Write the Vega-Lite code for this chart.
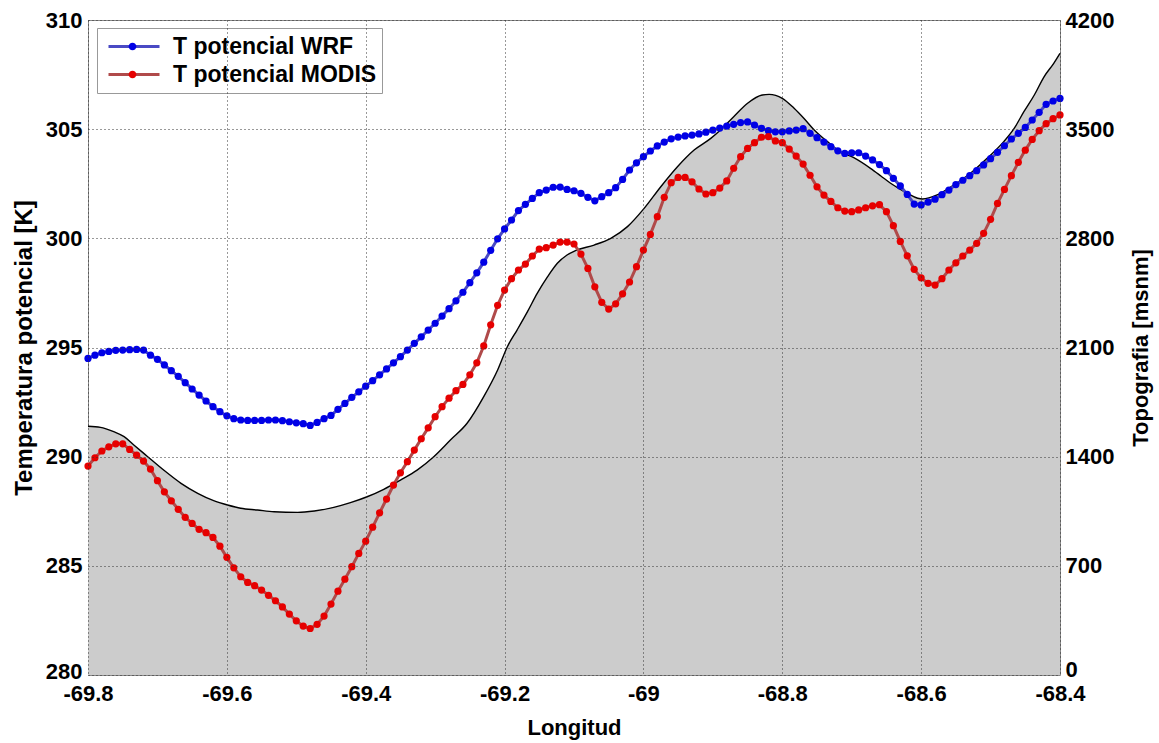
{
"$schema": "https://vega.github.io/schema/vega-lite/v6.json",
"width": 972, "height": 655,
"autosize": {"type": "none"},
"padding": {"left": 88, "top": 20, "right": 99, "bottom": 68},
"background": "white",
"config": {
 "font": "Liberation Sans",
 "view": {"stroke": "#888888", "strokeWidth": 1},
 "axis": {"labelFont": "Liberation Sans", "labelFontWeight": "bold", "labelFontSize": 22, "labelColor": "black",
  "titleFont": "Liberation Sans", "titleFontWeight": "bold", "titleFontSize": 22, "titleColor": "black",
  "gridColor": "#333333", "gridDash": [1, 3], "gridOpacity": 1, "gridWidth": 1,
  "ticks": false, "tickSize": 0, "domain": false, "labelFlush": false, "labelOverlap": false, "labelBound": false},
 "legend": {"orient": "none", "legendX": 9, "legendY": 8, "title": null, "symbolSize": 2601,
  "labelFont": "Liberation Sans", "labelFontSize": 23, "labelFontWeight": "bold", "labelColor": "black",
  "padding": 5, "symbolOffset": 5, "labelOffset": 12, "clipHeight": 27, "rowPadding": 1, "labelLimit": 400}
},
"datasets": {
"topo": [
{"lon":-69.8,"h":1595},{"lon":-69.782,"h":1588},{"lon":-69.763,"h":1560},{"lon":-69.748,"h":1528},{"lon":-69.734,"h":1475},{"lon":-69.714,"h":1400},{"lon":-69.691,"h":1314},{"lon":-69.666,"h":1229},{"lon":-69.642,"h":1165},{"lon":-69.619,"h":1118},{"lon":-69.599,"h":1090},{"lon":-69.58,"h":1069},{"lon":-69.556,"h":1058},{"lon":-69.532,"h":1047},{"lon":-69.498,"h":1043},{"lon":-69.474,"h":1052},{"lon":-69.446,"h":1075},{"lon":-69.422,"h":1105},{"lon":-69.398,"h":1143},{"lon":-69.374,"h":1191},{"lon":-69.35,"h":1250},{"lon":-69.326,"h":1314},{"lon":-69.302,"h":1400},{"lon":-69.278,"h":1507},{"lon":-69.254,"h":1614},{"lon":-69.23,"h":1785},{"lon":-69.21,"h":1956},{"lon":-69.196,"h":2105},{"lon":-69.182,"h":2212},{"lon":-69.167,"h":2330},{"lon":-69.153,"h":2447},{"lon":-69.138,"h":2554},{"lon":-69.124,"h":2640},{"lon":-69.11,"h":2693},{"lon":-69.098,"h":2721},{"lon":-69.071,"h":2757},{"lon":-69.047,"h":2800},{"lon":-69.023,"h":2875},{"lon":-68.999,"h":2992},{"lon":-68.975,"h":3131},{"lon":-68.951,"h":3259},{"lon":-68.927,"h":3366},{"lon":-68.903,"h":3441},{"lon":-68.889,"h":3495},{"lon":-68.87,"h":3580},{"lon":-68.85,"h":3666},{"lon":-68.829,"h":3719},{"lon":-68.819,"h":3723},{"lon":-68.8,"h":3698},{"lon":-68.783,"h":3634},{"lon":-68.769,"h":3570},{"lon":-68.754,"h":3495},{"lon":-68.735,"h":3420},{"lon":-68.718,"h":3360},{"lon":-68.697,"h":3317},{"lon":-68.673,"h":3249},{"lon":-68.658,"h":3200},{"lon":-68.644,"h":3153},{"lon":-68.62,"h":3089},{"lon":-68.605,"h":3057},{"lon":-68.598,"h":3052},{"lon":-68.577,"h":3078},{"lon":-68.553,"h":3142},{"lon":-68.529,"h":3217},{"lon":-68.505,"h":3313},{"lon":-68.481,"h":3420},{"lon":-68.466,"h":3505},{"lon":-68.452,"h":3612},{"lon":-68.437,"h":3719},{"lon":-68.423,"h":3836},{"lon":-68.409,"h":3922},{"lon":-68.4,"h":3986}
],
"temp": [
{"lon":-69.8,"serie":"T potencial WRF","t":294.50},{"lon":-69.79,"serie":"T potencial WRF","t":294.65},{"lon":-69.78,"serie":"T potencial WRF","t":294.76},{"lon":-69.77,"serie":"T potencial WRF","t":294.82},{"lon":-69.76,"serie":"T potencial WRF","t":294.87},{"lon":-69.75,"serie":"T potencial WRF","t":294.88},{"lon":-69.74,"serie":"T potencial WRF","t":294.90},{"lon":-69.73,"serie":"T potencial WRF","t":294.91},{"lon":-69.72,"serie":"T potencial WRF","t":294.88},{"lon":-69.71,"serie":"T potencial WRF","t":294.65},
{"lon":-69.7,"serie":"T potencial WRF","t":294.46},{"lon":-69.69,"serie":"T potencial WRF","t":294.20},{"lon":-69.68,"serie":"T potencial WRF","t":293.94},{"lon":-69.67,"serie":"T potencial WRF","t":293.68},{"lon":-69.66,"serie":"T potencial WRF","t":293.39},{"lon":-69.65,"serie":"T potencial WRF","t":293.10},{"lon":-69.64,"serie":"T potencial WRF","t":292.82},{"lon":-69.63,"serie":"T potencial WRF","t":292.55},{"lon":-69.62,"serie":"T potencial WRF","t":292.29},{"lon":-69.61,"serie":"T potencial WRF","t":292.06},
{"lon":-69.6,"serie":"T potencial WRF","t":291.87},{"lon":-69.59,"serie":"T potencial WRF","t":291.74},{"lon":-69.58,"serie":"T potencial WRF","t":291.68},{"lon":-69.57,"serie":"T potencial WRF","t":291.66},{"lon":-69.56,"serie":"T potencial WRF","t":291.66},{"lon":-69.55,"serie":"T potencial WRF","t":291.66},{"lon":-69.54,"serie":"T potencial WRF","t":291.68},{"lon":-69.53,"serie":"T potencial WRF","t":291.68},{"lon":-69.52,"serie":"T potencial WRF","t":291.65},{"lon":-69.51,"serie":"T potencial WRF","t":291.60},
{"lon":-69.5,"serie":"T potencial WRF","t":291.55},{"lon":-69.49,"serie":"T potencial WRF","t":291.51},{"lon":-69.48,"serie":"T potencial WRF","t":291.43},{"lon":-69.47,"serie":"T potencial WRF","t":291.57},{"lon":-69.46,"serie":"T potencial WRF","t":291.74},{"lon":-69.45,"serie":"T potencial WRF","t":291.89},{"lon":-69.44,"serie":"T potencial WRF","t":292.17},{"lon":-69.43,"serie":"T potencial WRF","t":292.44},{"lon":-69.42,"serie":"T potencial WRF","t":292.72},{"lon":-69.41,"serie":"T potencial WRF","t":292.97},
{"lon":-69.4,"serie":"T potencial WRF","t":293.23},{"lon":-69.39,"serie":"T potencial WRF","t":293.48},{"lon":-69.38,"serie":"T potencial WRF","t":293.75},{"lon":-69.37,"serie":"T potencial WRF","t":294.02},{"lon":-69.36,"serie":"T potencial WRF","t":294.30},{"lon":-69.35,"serie":"T potencial WRF","t":294.58},{"lon":-69.34,"serie":"T potencial WRF","t":294.88},{"lon":-69.33,"serie":"T potencial WRF","t":295.19},{"lon":-69.32,"serie":"T potencial WRF","t":295.49},{"lon":-69.31,"serie":"T potencial WRF","t":295.80},
{"lon":-69.3,"serie":"T potencial WRF","t":296.11},{"lon":-69.29,"serie":"T potencial WRF","t":296.44},{"lon":-69.28,"serie":"T potencial WRF","t":296.78},{"lon":-69.27,"serie":"T potencial WRF","t":297.14},{"lon":-69.26,"serie":"T potencial WRF","t":297.53},{"lon":-69.25,"serie":"T potencial WRF","t":297.97},{"lon":-69.24,"serie":"T potencial WRF","t":298.42},{"lon":-69.23,"serie":"T potencial WRF","t":298.91},{"lon":-69.22,"serie":"T potencial WRF","t":299.45},{"lon":-69.21,"serie":"T potencial WRF","t":299.98},
{"lon":-69.2,"serie":"T potencial WRF","t":300.43},{"lon":-69.19,"serie":"T potencial WRF","t":300.84},{"lon":-69.18,"serie":"T potencial WRF","t":301.27},{"lon":-69.17,"serie":"T potencial WRF","t":301.56},{"lon":-69.16,"serie":"T potencial WRF","t":301.83},{"lon":-69.15,"serie":"T potencial WRF","t":302.09},{"lon":-69.14,"serie":"T potencial WRF","t":302.21},{"lon":-69.13,"serie":"T potencial WRF","t":302.34},{"lon":-69.12,"serie":"T potencial WRF","t":302.35},{"lon":-69.11,"serie":"T potencial WRF","t":302.24},
{"lon":-69.1,"serie":"T potencial WRF","t":302.18},{"lon":-69.09,"serie":"T potencial WRF","t":302.06},{"lon":-69.08,"serie":"T potencial WRF","t":301.88},{"lon":-69.07,"serie":"T potencial WRF","t":301.72},{"lon":-69.06,"serie":"T potencial WRF","t":301.91},{"lon":-69.05,"serie":"T potencial WRF","t":302.09},{"lon":-69.04,"serie":"T potencial WRF","t":302.32},{"lon":-69.03,"serie":"T potencial WRF","t":302.70},{"lon":-69.02,"serie":"T potencial WRF","t":303.13},{"lon":-69.01,"serie":"T potencial WRF","t":303.46},
{"lon":-69,"serie":"T potencial WRF","t":303.74},{"lon":-68.99,"serie":"T potencial WRF","t":304.00},{"lon":-68.98,"serie":"T potencial WRF","t":304.23},{"lon":-68.97,"serie":"T potencial WRF","t":304.41},{"lon":-68.96,"serie":"T potencial WRF","t":304.56},{"lon":-68.95,"serie":"T potencial WRF","t":304.64},{"lon":-68.94,"serie":"T potencial WRF","t":304.69},{"lon":-68.93,"serie":"T potencial WRF","t":304.73},{"lon":-68.92,"serie":"T potencial WRF","t":304.78},{"lon":-68.91,"serie":"T potencial WRF","t":304.86},
{"lon":-68.9,"serie":"T potencial WRF","t":304.96},{"lon":-68.89,"serie":"T potencial WRF","t":305.05},{"lon":-68.88,"serie":"T potencial WRF","t":305.14},{"lon":-68.87,"serie":"T potencial WRF","t":305.22},{"lon":-68.86,"serie":"T potencial WRF","t":305.30},{"lon":-68.85,"serie":"T potencial WRF","t":305.33},{"lon":-68.84,"serie":"T potencial WRF","t":305.19},{"lon":-68.83,"serie":"T potencial WRF","t":305.04},{"lon":-68.82,"serie":"T potencial WRF","t":304.93},{"lon":-68.81,"serie":"T potencial WRF","t":304.88},
{"lon":-68.8,"serie":"T potencial WRF","t":304.88},{"lon":-68.79,"serie":"T potencial WRF","t":304.92},{"lon":-68.78,"serie":"T potencial WRF","t":304.96},{"lon":-68.77,"serie":"T potencial WRF","t":305.02},{"lon":-68.76,"serie":"T potencial WRF","t":304.81},{"lon":-68.75,"serie":"T potencial WRF","t":304.61},{"lon":-68.74,"serie":"T potencial WRF","t":304.41},{"lon":-68.73,"serie":"T potencial WRF","t":304.20},{"lon":-68.72,"serie":"T potencial WRF","t":304.01},{"lon":-68.71,"serie":"T potencial WRF","t":303.89},
{"lon":-68.7,"serie":"T potencial WRF","t":303.92},{"lon":-68.69,"serie":"T potencial WRF","t":303.92},{"lon":-68.68,"serie":"T potencial WRF","t":303.77},{"lon":-68.67,"serie":"T potencial WRF","t":303.59},{"lon":-68.66,"serie":"T potencial WRF","t":303.38},{"lon":-68.65,"serie":"T potencial WRF","t":303.10},{"lon":-68.64,"serie":"T potencial WRF","t":302.75},{"lon":-68.63,"serie":"T potencial WRF","t":302.40},{"lon":-68.62,"serie":"T potencial WRF","t":302.01},{"lon":-68.61,"serie":"T potencial WRF","t":301.57},
{"lon":-68.6,"serie":"T potencial WRF","t":301.53},{"lon":-68.59,"serie":"T potencial WRF","t":301.66},{"lon":-68.58,"serie":"T potencial WRF","t":301.79},{"lon":-68.57,"serie":"T potencial WRF","t":302.00},{"lon":-68.56,"serie":"T potencial WRF","t":302.21},{"lon":-68.55,"serie":"T potencial WRF","t":302.46},{"lon":-68.54,"serie":"T potencial WRF","t":302.66},{"lon":-68.53,"serie":"T potencial WRF","t":302.87},{"lon":-68.52,"serie":"T potencial WRF","t":303.10},{"lon":-68.51,"serie":"T potencial WRF","t":303.36},
{"lon":-68.5,"serie":"T potencial WRF","t":303.65},{"lon":-68.49,"serie":"T potencial WRF","t":303.94},{"lon":-68.48,"serie":"T potencial WRF","t":304.24},{"lon":-68.47,"serie":"T potencial WRF","t":304.55},{"lon":-68.46,"serie":"T potencial WRF","t":304.81},{"lon":-68.45,"serie":"T potencial WRF","t":305.08},{"lon":-68.44,"serie":"T potencial WRF","t":305.42},{"lon":-68.43,"serie":"T potencial WRF","t":305.77},{"lon":-68.42,"serie":"T potencial WRF","t":306.14},{"lon":-68.41,"serie":"T potencial WRF","t":306.29},
{"lon":-68.4,"serie":"T potencial WRF","t":306.41},
{"lon":-69.8,"serie":"T potencial MODIS","t":289.57},{"lon":-69.79,"serie":"T potencial MODIS","t":289.95},{"lon":-69.78,"serie":"T potencial MODIS","t":290.26},{"lon":-69.77,"serie":"T potencial MODIS","t":290.45},{"lon":-69.76,"serie":"T potencial MODIS","t":290.59},{"lon":-69.75,"serie":"T potencial MODIS","t":290.59},{"lon":-69.74,"serie":"T potencial MODIS","t":290.33},{"lon":-69.73,"serie":"T potencial MODIS","t":290.07},{"lon":-69.72,"serie":"T potencial MODIS","t":289.80},{"lon":-69.71,"serie":"T potencial MODIS","t":289.43},
{"lon":-69.7,"serie":"T potencial MODIS","t":288.90},{"lon":-69.69,"serie":"T potencial MODIS","t":288.39},{"lon":-69.68,"serie":"T potencial MODIS","t":287.98},{"lon":-69.67,"serie":"T potencial MODIS","t":287.59},{"lon":-69.66,"serie":"T potencial MODIS","t":287.22},{"lon":-69.65,"serie":"T potencial MODIS","t":286.94},{"lon":-69.64,"serie":"T potencial MODIS","t":286.67},{"lon":-69.63,"serie":"T potencial MODIS","t":286.52},{"lon":-69.62,"serie":"T potencial MODIS","t":286.30},{"lon":-69.61,"serie":"T potencial MODIS","t":285.90},
{"lon":-69.6,"serie":"T potencial MODIS","t":285.39},{"lon":-69.59,"serie":"T potencial MODIS","t":284.91},{"lon":-69.58,"serie":"T potencial MODIS","t":284.50},{"lon":-69.57,"serie":"T potencial MODIS","t":284.24},{"lon":-69.56,"serie":"T potencial MODIS","t":284.09},{"lon":-69.55,"serie":"T potencial MODIS","t":283.89},{"lon":-69.54,"serie":"T potencial MODIS","t":283.65},{"lon":-69.53,"serie":"T potencial MODIS","t":283.40},{"lon":-69.52,"serie":"T potencial MODIS","t":283.12},{"lon":-69.51,"serie":"T potencial MODIS","t":282.79},
{"lon":-69.5,"serie":"T potencial MODIS","t":282.48},{"lon":-69.49,"serie":"T potencial MODIS","t":282.24},{"lon":-69.48,"serie":"T potencial MODIS","t":282.13},{"lon":-69.47,"serie":"T potencial MODIS","t":282.32},{"lon":-69.46,"serie":"T potencial MODIS","t":282.70},{"lon":-69.45,"serie":"T potencial MODIS","t":283.25},{"lon":-69.44,"serie":"T potencial MODIS","t":283.84},{"lon":-69.43,"serie":"T potencial MODIS","t":284.39},{"lon":-69.42,"serie":"T potencial MODIS","t":284.96},{"lon":-69.41,"serie":"T potencial MODIS","t":285.57},
{"lon":-69.4,"serie":"T potencial MODIS","t":286.13},{"lon":-69.39,"serie":"T potencial MODIS","t":286.77},{"lon":-69.38,"serie":"T potencial MODIS","t":287.43},{"lon":-69.37,"serie":"T potencial MODIS","t":288.06},{"lon":-69.36,"serie":"T potencial MODIS","t":288.70},{"lon":-69.35,"serie":"T potencial MODIS","t":289.26},{"lon":-69.34,"serie":"T potencial MODIS","t":289.77},{"lon":-69.33,"serie":"T potencial MODIS","t":290.30},{"lon":-69.32,"serie":"T potencial MODIS","t":290.82},{"lon":-69.31,"serie":"T potencial MODIS","t":291.32},
{"lon":-69.3,"serie":"T potencial MODIS","t":291.83},{"lon":-69.29,"serie":"T potencial MODIS","t":292.29},{"lon":-69.28,"serie":"T potencial MODIS","t":292.68},{"lon":-69.27,"serie":"T potencial MODIS","t":293.02},{"lon":-69.26,"serie":"T potencial MODIS","t":293.31},{"lon":-69.25,"serie":"T potencial MODIS","t":293.75},{"lon":-69.24,"serie":"T potencial MODIS","t":294.30},{"lon":-69.23,"serie":"T potencial MODIS","t":295.07},{"lon":-69.22,"serie":"T potencial MODIS","t":296.04},{"lon":-69.21,"serie":"T potencial MODIS","t":296.93},
{"lon":-69.2,"serie":"T potencial MODIS","t":297.63},{"lon":-69.19,"serie":"T potencial MODIS","t":298.15},{"lon":-69.18,"serie":"T potencial MODIS","t":298.55},{"lon":-69.17,"serie":"T potencial MODIS","t":298.82},{"lon":-69.16,"serie":"T potencial MODIS","t":299.19},{"lon":-69.15,"serie":"T potencial MODIS","t":299.51},{"lon":-69.14,"serie":"T potencial MODIS","t":299.57},{"lon":-69.13,"serie":"T potencial MODIS","t":299.69},{"lon":-69.12,"serie":"T potencial MODIS","t":299.83},{"lon":-69.11,"serie":"T potencial MODIS","t":299.83},
{"lon":-69.1,"serie":"T potencial MODIS","t":299.74},{"lon":-69.09,"serie":"T potencial MODIS","t":299.28},{"lon":-69.08,"serie":"T potencial MODIS","t":298.62},{"lon":-69.07,"serie":"T potencial MODIS","t":297.78},{"lon":-69.06,"serie":"T potencial MODIS","t":297.07},{"lon":-69.05,"serie":"T potencial MODIS","t":296.76},{"lon":-69.04,"serie":"T potencial MODIS","t":297.00},{"lon":-69.03,"serie":"T potencial MODIS","t":297.46},{"lon":-69.02,"serie":"T potencial MODIS","t":298.00},{"lon":-69.01,"serie":"T potencial MODIS","t":298.70},
{"lon":-69,"serie":"T potencial MODIS","t":299.46},{"lon":-68.99,"serie":"T potencial MODIS","t":300.18},{"lon":-68.98,"serie":"T potencial MODIS","t":300.99},{"lon":-68.97,"serie":"T potencial MODIS","t":301.88},{"lon":-68.96,"serie":"T potencial MODIS","t":302.55},{"lon":-68.95,"serie":"T potencial MODIS","t":302.79},{"lon":-68.94,"serie":"T potencial MODIS","t":302.79},{"lon":-68.93,"serie":"T potencial MODIS","t":302.59},{"lon":-68.92,"serie":"T potencial MODIS","t":302.26},{"lon":-68.91,"serie":"T potencial MODIS","t":302.03},
{"lon":-68.9,"serie":"T potencial MODIS","t":302.09},{"lon":-68.89,"serie":"T potencial MODIS","t":302.30},{"lon":-68.88,"serie":"T potencial MODIS","t":302.63},{"lon":-68.87,"serie":"T potencial MODIS","t":303.21},{"lon":-68.86,"serie":"T potencial MODIS","t":303.74},{"lon":-68.85,"serie":"T potencial MODIS","t":304.12},{"lon":-68.84,"serie":"T potencial MODIS","t":304.38},{"lon":-68.83,"serie":"T potencial MODIS","t":304.63},{"lon":-68.82,"serie":"T potencial MODIS","t":304.66},{"lon":-68.81,"serie":"T potencial MODIS","t":304.46},
{"lon":-68.8,"serie":"T potencial MODIS","t":304.38},{"lon":-68.79,"serie":"T potencial MODIS","t":304.09},{"lon":-68.78,"serie":"T potencial MODIS","t":303.77},{"lon":-68.77,"serie":"T potencial MODIS","t":303.40},{"lon":-68.76,"serie":"T potencial MODIS","t":302.89},{"lon":-68.75,"serie":"T potencial MODIS","t":302.36},{"lon":-68.74,"serie":"T potencial MODIS","t":301.98},{"lon":-68.73,"serie":"T potencial MODIS","t":301.69},{"lon":-68.72,"serie":"T potencial MODIS","t":301.40},{"lon":-68.71,"serie":"T potencial MODIS","t":301.25},
{"lon":-68.7,"serie":"T potencial MODIS","t":301.22},{"lon":-68.69,"serie":"T potencial MODIS","t":301.30},{"lon":-68.68,"serie":"T potencial MODIS","t":301.40},{"lon":-68.67,"serie":"T potencial MODIS","t":301.49},{"lon":-68.66,"serie":"T potencial MODIS","t":301.54},{"lon":-68.65,"serie":"T potencial MODIS","t":301.22},{"lon":-68.64,"serie":"T potencial MODIS","t":300.58},{"lon":-68.63,"serie":"T potencial MODIS","t":299.86},{"lon":-68.62,"serie":"T potencial MODIS","t":299.20},{"lon":-68.61,"serie":"T potencial MODIS","t":298.58},
{"lon":-68.6,"serie":"T potencial MODIS","t":298.19},{"lon":-68.59,"serie":"T potencial MODIS","t":297.94},{"lon":-68.58,"serie":"T potencial MODIS","t":297.86},{"lon":-68.57,"serie":"T potencial MODIS","t":298.15},{"lon":-68.56,"serie":"T potencial MODIS","t":298.55},{"lon":-68.55,"serie":"T potencial MODIS","t":298.88},{"lon":-68.54,"serie":"T potencial MODIS","t":299.19},{"lon":-68.53,"serie":"T potencial MODIS","t":299.46},{"lon":-68.52,"serie":"T potencial MODIS","t":299.77},{"lon":-68.51,"serie":"T potencial MODIS","t":300.23},
{"lon":-68.5,"serie":"T potencial MODIS","t":300.87},{"lon":-68.49,"serie":"T potencial MODIS","t":301.60},{"lon":-68.48,"serie":"T potencial MODIS","t":302.24},{"lon":-68.47,"serie":"T potencial MODIS","t":302.87},{"lon":-68.46,"serie":"T potencial MODIS","t":303.48},{"lon":-68.45,"serie":"T potencial MODIS","t":304.04},{"lon":-68.44,"serie":"T potencial MODIS","t":304.53},{"lon":-68.43,"serie":"T potencial MODIS","t":304.93},{"lon":-68.42,"serie":"T potencial MODIS","t":305.25},{"lon":-68.41,"serie":"T potencial MODIS","t":305.48},
{"lon":-68.4,"serie":"T potencial MODIS","t":305.65}
]
},
"layer": [
 {
  "data": {"name": "topo"},
  "mark": {"type": "area", "color": "#cccccc", "opacity": 1, "interpolate": "monotone", "line": {"color": "black", "strokeWidth": 1.4}},
  "encoding": {
   "x": {"field": "lon", "type": "quantitative", "scale": {"domain": [-69.8, -68.4], "nice": false, "zero": false},
    "axis": {"values": [-69.8, -69.6, -69.4, -69.2, -69, -68.8, -68.6, -68.4], "format": "~g",
     "labelExpr": "replace(datum.label, '\u2212', '-')", "labelPadding": 8, "title": "Longitud", "titlePadding": 13,
     "grid": true, "zindex": 1}},
   "y": {"field": "h", "type": "quantitative", "scale": {"domain": [0, 4200], "nice": false, "zero": false},
    "axis": {"orient": "right", "values": [0, 700, 1400, 2100, 2800, 3500, 4200], "format": "d", "grid": false,
     "labelOffset": {"condition": {"test": "datum.value == 0", "value": -6}, "value": 0},
     "labelPadding": 5, "title": "Topografia [msnm]", "titleAngle": 270, "titleBaseline": "top", "titlePadding": 17, "zindex": 1}}
  }
 },
 {
  "data": {"name": "temp"},
  "layer": [
   {
    "mark": {"type": "line", "strokeWidth": 3},
    "encoding": {
     "x": {"field": "lon", "type": "quantitative"},
     "y": {"field": "t", "type": "quantitative", "scale": {"domain": [280, 310], "nice": false, "zero": false},
      "axis": {"orient": "left", "values": [280, 285, 290, 295, 300, 305, 310], "format": "d", "grid": true,
       "labelOffset": {"condition": {"test": "datum.value == 280", "value": -4}, "value": 0},
       "labelPadding": 6, "title": "Temperatura potencial [K]", "titleFontSize": 24, "titlePadding": 9, "zindex": 1}},
     "stroke": {"field": "serie", "type": "nominal", "sort": "descending",
      "scale": {"range": ["#4a4ac4", "#b04a4a"]},
      "legend": {"symbolType": "stroke", "symbolStrokeWidth": 3, "fillColor": "white", "strokeColor": "#999999", "zindex": 0}}
    }
   },
   {
    "mark": {"type": "point", "filled": true, "opacity": 1, "size": 52, "shape": "circle"},
    "encoding": {
     "x": {"field": "lon", "type": "quantitative"},
     "y": {"field": "t", "type": "quantitative"},
     "fill": {"field": "serie", "type": "nominal",
      "scale": {"domain": ["T potencial WRF", "T potencial MODIS"], "range": ["#0000e6", "#e60000"]},
      "legend": {"symbolType": "M0.15,0A0.15,0.15,0,1,1,-0.15,0A0.15,0.15,0,1,1,0.15,0Z", "symbolStrokeWidth": 0, "labelExpr": "''", "zindex": 1}}
    }
   }
  ]
 }
],
"resolve": {"scale": {"y": "independent"}, "axis": {"y": "independent"}}
}
